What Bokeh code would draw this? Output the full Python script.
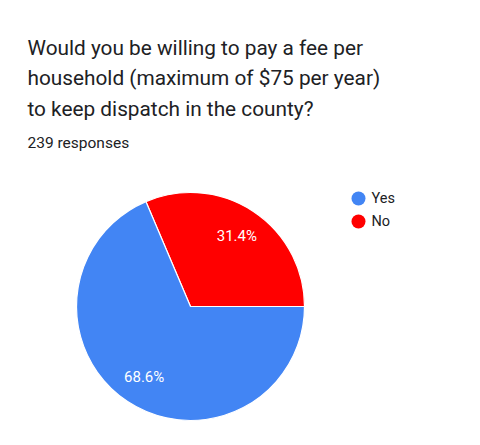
import numpy as np
from bokeh.plotting import figure
from bokeh.models import ColumnDataSource, Label, Range1d
from bokeh.core.properties import value
from bokeh.embed import file_html
from bokeh.resources import INLINE

# ---- data ----
categories = ["Yes", "No"]
shares = [68.6, 31.4]
colors = ["#4285f4", "#ff0000"]
title_lines = [
    "Would you be willing to pay a fee per",
    "household (maximum of $75 per year)",
    "to keep dispatch in the county?",
]
subtitle = "239 responses"

W, H = 464, 429
p = figure(width=W, height=H, output_backend="svg", toolbar_location=None,
           x_range=Range1d(0, W), y_range=Range1d(0, H), min_border=0,
           outline_line_color=None)
p.axis.visible = False
p.grid.visible = False
p.background_fill_color = "white"

# pie: red ("No") starts at 3 o'clock going counter-clockwise, blue takes the rest
cx, cy, R = 190, 123, 114
order = [1, 0]
fr = np.array([shares[i] for i in order]) / 100.0
ends = np.cumsum(fr) * 2 * np.pi
starts = np.concatenate([[0.0], ends[:-1]])
src = ColumnDataSource(dict(
    start=starts, end=ends,
    color=[colors[i] for i in order],
    cat=[categories[i] for i in order],
))
p.wedge(x=cx, y=cy, radius=R, start_angle="start", end_angle="end",
        fill_color="color", line_color="white", line_width=1.2, source=src)

mid = (starts + ends) / 2
lab_r = 84
lsrc = ColumnDataSource(dict(
    x=cx + lab_r * np.cos(mid), y=cy + lab_r * np.sin(mid),
    t=[f"{s:.1f}%" for s in [shares[i] for i in order]],
))
p.text(x="x", y="y", text="t", source=lsrc, text_color="white",
       text_font=value("Roboto"), text_font_size="15px",
       text_align="center", text_baseline="middle")

# legend
leg_y = [H - 198, H - 221]
p.scatter(x=[358, 358], y=leg_y, size=14, marker="circle",
          fill_color=colors, line_color=None)
p.text(x=[371, 371], y=leg_y, text=categories, text_color="#202124",
       text_font=value("Roboto"), text_font_size="14.5px",
       text_align="left", text_baseline="middle")

# title
baselines = [47, 77.5, 108]
for line, b in zip(title_lines, baselines):
    p.add_layout(Label(x=27, y=H - b, text=line,
                       text_font="Roboto", text_font_size="20.8px",
                       text_color="#202124", text_baseline="alphabetic"))
p.add_layout(Label(x=27, y=H - 142, text=subtitle, text_font="Roboto",
                   text_font_size="15.5px", text_color="#202124",
                   text_baseline="alphabetic"))

open("out.html", "w").write(file_html(p, INLINE))
